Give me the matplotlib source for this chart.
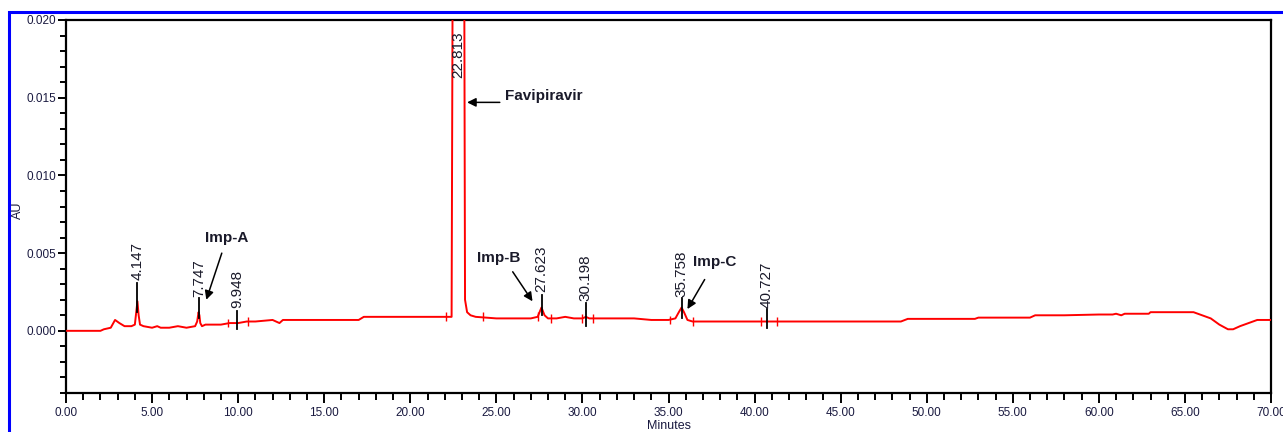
import matplotlib
matplotlib.use("Agg")
import matplotlib.pyplot as plt
from matplotlib.patches import Rectangle
from matplotlib.ticker import MultipleLocator, FormatStrFormatter


# Chromatogram trace (retention time in minutes, absorbance in AU)
time_min = [
    0.0, 2.0, 2.2, 2.6, 2.85, 3.1, 3.4, 3.8, 4.0, 4.08, 4.15, 4.22, 4.3, 4.5,
    5.0, 5.3, 5.5, 6.0, 6.5, 7.0, 7.5, 7.62, 7.7, 7.75, 7.8, 7.9, 8.1, 8.5,
    9.0, 9.5, 10.0, 10.5, 11.0, 12.0, 12.4, 12.6, 13.0, 15.0, 17.0, 17.3,
    19.0, 21.0, 22.0, 22.4, 22.48, 22.813, 23.12, 23.18, 23.3, 23.5, 23.8,
    25.0, 26.0, 27.0, 27.4, 27.62, 27.8, 28.0, 28.5, 29.0, 29.5, 30.0, 30.2,
    30.4, 31.0, 33.0, 34.0, 35.0, 35.4, 35.6, 35.76, 35.9, 36.1, 36.4, 37.0,
    38.0, 40.0, 42.0, 44.0, 46.0, 48.5, 48.9, 50.0, 52.8, 53.0, 56.0, 56.3,
    58.0, 60.0, 60.8, 61.0, 61.3, 61.5, 62.9, 63.0, 65.0, 65.5, 66.0, 66.5,
    67.0, 67.5, 67.8, 68.2, 68.7, 69.2, 70.0,
]
absorbance_au = [
    0.0000, 0.0000, 0.0001, 0.0002, 0.0007, 0.0005, 0.0003, 0.0003, 0.0004,
    0.0012, 0.0019, 0.0010, 0.0004, 0.0003,
    0.0002, 0.0003, 0.0002, 0.0002, 0.0003, 0.0002, 0.0003, 0.0006, 0.0012,
    0.0010, 0.0005, 0.0003, 0.0004, 0.0004,
    0.0004, 0.0005, 0.0005, 0.0006, 0.0006, 0.0007, 0.0005, 0.0007, 0.0007,
    0.0007, 0.0007, 0.0009,
    0.0009, 0.0009, 0.0009, 0.0009, 0.0300, 0.3000, 0.0300, 0.0020, 0.0012,
    0.0010, 0.0009,
    0.0008, 0.0008, 0.0008, 0.0009, 0.0015, 0.0010, 0.0008, 0.0008, 0.0009,
    0.0008, 0.0008, 0.0009,
    0.0008, 0.0008, 0.0008, 0.0007, 0.0007, 0.0008, 0.0012, 0.0015, 0.0012,
    0.0007, 0.0006, 0.0006,
    0.0006, 0.0006, 0.0006, 0.0006, 0.0006, 0.0006, 0.00077, 0.00077,
    0.00077, 0.00085, 0.00085, 0.0010,
    0.0010, 0.00105, 0.00105, 0.0011, 0.0010, 0.0011, 0.0011, 0.0012, 0.0012,
    0.0012, 0.0010, 0.0008,
    0.0004, 0.0001, 0.0001, 0.0003, 0.0005, 0.0007, 0.0007,
]

# Retention time labels of the integrated peaks
peak_rt = [4.147, 7.747, 9.948, 22.813, 27.623, 30.198, 35.758, 40.727]
peak_labels = ["4.147", "7.747", "9.948", "22.813", "27.623", "30.198", "35.758", "40.727"]

# Integration start/end marks on the baseline
boundary_rt = [9.4, 10.6, 22.1, 24.2, 27.4, 28.2, 30.0, 30.6, 35.1, 36.4, 40.4, 41.3]
boundary_au = [0.0005, 0.0006, 0.0009, 0.0009, 0.0009, 0.0008, 0.0008, 0.0008,
               0.0007, 0.0006, 0.0006, 0.0006]

# Compound names
compound_names = ["Favipiravir", "Imp-A", "Imp-B", "Imp-C"]

# Layout of peak labels: text bottom, tick line top / bottom (AU)
label_bottom = [0.0033, 0.0022, 0.0015, 0.0163, 0.0025, 0.0019, 0.0022, 0.0015]
line_top = [0.0031, 0.0021, 0.0013, None, 0.0023, 0.0018, 0.0021, 0.0014]
line_bottom = [0.0012, 0.0008, 0.0001, None, 0.0010, 0.0003, 0.0008, 0.0002]

# Layout of compound annotations: text (left, center) and arrow tail -> tip
name_xy = [(25.5, 0.0151), (8.1, 0.0060), (23.9, 0.0047), (36.4, 0.0044)]
arrow_tail = [(25.2, 0.0147), (9.05, 0.0050), (25.95, 0.0038), (37.1, 0.0033)]
arrow_tip = [(23.3, 0.0147), (8.15, 0.0020), (27.1, 0.0019), (36.1, 0.0014)]


W, H = 1283, 432
fig = plt.figure(figsize=(W / 100, H / 100), dpi=100)
fig.patch.set_facecolor("white")

ax = fig.add_axes([66 / W, 1 - 393 / H, (1271 - 66) / W, (393 - 20) / H])

ax.plot(time_min, absorbance_au, color="#ff0000", lw=1.4, zorder=3)
ax.vlines(boundary_rt, [a - 0.00028 for a in boundary_au],
          [a + 0.00028 for a in boundary_au], color="#ff0000", lw=1.0, zorder=3)

ax.set_xlim(0, 70)
ax.set_ylim(-0.004, 0.020)

label_font = ["Liberation Sans", "DejaVu Sans"]

# Peak retention time labels
for rt, lab, yb, lt, lbot in zip(peak_rt, peak_labels, label_bottom, line_top, line_bottom):
    if lt is not None:
        ax.plot([rt, rt], [lbot, lt], color="black", lw=1.3, zorder=4)
    ax.text(rt, yb, lab, rotation=90, ha="center", va="bottom",
            fontsize=11, family=label_font, color="#1a1a2a",
            zorder=5, clip_on=False)

# Compound names with arrows
for name, (tx, ty), tail, tip in zip(compound_names, name_xy, arrow_tail, arrow_tip):
    ax.text(tx, ty, name, ha="left", va="center", fontsize=11, fontweight="bold",
            family=label_font, color="#1a1a2a", zorder=5)
    ax.annotate("", xy=tip, xytext=tail,
                arrowprops=dict(arrowstyle="-|>", color="black", lw=1.1,
                                mutation_scale=13, shrinkA=0, shrinkB=0),
                zorder=5)

# Axes styling
tick_font = ["Liberation Sans Narrow", "Liberation Sans", "DejaVu Sans"]
ax.xaxis.set_major_locator(MultipleLocator(5))
ax.xaxis.set_minor_locator(MultipleLocator(1))
ax.yaxis.set_major_locator(MultipleLocator(0.005))
ax.yaxis.set_minor_locator(MultipleLocator(0.001))
ax.xaxis.set_major_formatter(FormatStrFormatter("%.2f"))
ax.yaxis.set_major_formatter(FormatStrFormatter("%.3f"))

ax.tick_params(axis="x", which="major", direction="out", length=7, width=1.4, pad=3)
ax.tick_params(axis="x", which="minor", direction="out", length=5, width=1.4)
ax.tick_params(axis="y", which="major", direction="out", length=6, width=1.4, pad=1)
ax.tick_params(axis="y", which="minor", direction="out", length=4, width=1.4)
for lab in ax.get_xticklabels() + ax.get_yticklabels():
    lab.set_family(tick_font)
    lab.set_fontsize(8.5)
    lab.set_color("#1a1a40")

for sp in ax.spines.values():
    sp.set_linewidth(1.6)
    sp.set_color("black")

ax.set_xlabel("Minutes", fontsize=9, family=tick_font, labelpad=1, color="#1a1a40")
ax.set_ylabel("AU", fontsize=9, family=tick_font, color="#1a1a40")
ax.yaxis.set_label_coords(-0.035, 0.49)

# Blue frame around the exported region
fig.add_artist(Rectangle((9 / W, -0.2), 1.2, 1 - 12 / H + 0.2, transform=fig.transFigure,
                         fill=False, edgecolor="#0000ff", lw=2.2, clip_on=False))

fig.savefig("out.png", dpi=100)
